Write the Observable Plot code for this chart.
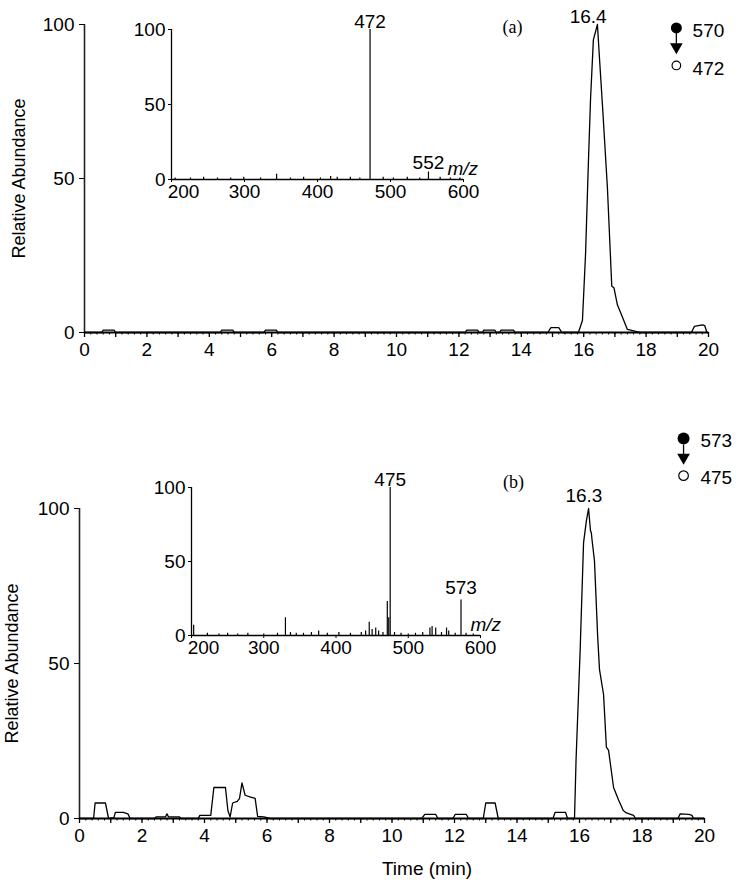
<!DOCTYPE html>
<html>
<head>
<meta charset="utf-8">
<script src="https://cdn.jsdelivr.net/npm/d3@7"></script>
<script src="https://cdn.jsdelivr.net/npm/@observablehq/plot@0.6"></script>
<style>
  body { margin: 0; background: #fff; }
  #wrap { position: relative; width: 740px; height: 890px; background: #fff; }
  #wrap > div { position: absolute; }
</style>
</head>
<body>
<div id="wrap">
  <div id="mainA" style="left:0px;top:0px"></div>
  <div id="mainB" style="left:0px;top:400px"></div>
  <div id="insetA" style="left:120px;top:0px"></div>
  <div id="insetB" style="left:140px;top:440px"></div>
</div>
<script>
// ---------- Data ----------
// Panel (a): chromatogram 570 -> 472
const timeA  = [0, 0.55, 0.6, 0.95, 1.0, 4.35, 4.4, 4.75, 4.8, 5.75, 5.8, 6.15, 6.2,
                12.2, 12.25, 12.6, 12.65, 12.75, 12.8, 13.15, 13.2, 13.3, 13.35, 13.75, 13.8,
                14.85, 14.95, 15.2, 15.3, 15.83, 15.96, 16.06, 16.15, 16.22, 16.31, 16.44,
                16.5, 16.6, 16.76, 16.9, 16.97, 17.08, 17.24, 17.4, 17.6, 17.8,
                19.45, 19.55, 19.8, 19.88, 19.95, 20];
const abundA = [0, 0, 0.8, 0.8, 0, 0, 0.8, 0.8, 0, 0, 0.8, 0.8, 0,
                0, 0.8, 0.8, 0, 0, 0.8, 0.8, 0, 0, 0.8, 0.8, 0,
                0, 1.6, 1.6, 0, 0, 3.9, 25.6, 55, 76, 95, 100,
                90, 74, 47, 15, 14.5, 9, 5, 1, 0.5, 0,
                0, 2, 2.5, 2.2, 0, 0];

// Panel (b): chromatogram 573 -> 475
const timeB  = [0, 0.45, 0.5, 0.83, 0.93, 1.1, 1.15, 1.4, 1.55, 1.62, 2.4, 2.45, 2.75, 2.8, 2.85, 3.2, 3.25,
                3.8, 3.85, 4.2, 4.3, 4.67, 4.75, 4.82, 4.9, 5.05, 5.12, 5.2, 5.3, 5.45, 5.62, 5.7, 5.9, 6.1,
                10.95, 11.05, 11.4, 11.47, 11.95, 12.02, 12.38, 12.45, 12.92, 13.0, 13.3, 13.4,
                15.15, 15.22, 15.55, 15.62, 15.84, 15.89, 16.02, 16.13, 16.22, 16.29, 16.35, 16.38, 16.4,
                16.48, 16.58, 16.64, 16.77, 16.86, 16.93, 17.09, 17.25, 17.4, 17.5, 17.73, 17.8,
                19.15, 19.22, 19.5, 19.6, 19.65, 20];
const abundB = [0, 0, 5, 5, 0, 0.3, 2, 2, 1.5, 0, 0, 0.5, 0.5, 1.5, 0.5, 0.5, 0,
                0, 1, 1, 10, 10, 2.5, 0.5, 5, 5.5, 6.5, 11.5, 7.5, 7, 6.5, 0.7, 0.5, 0,
                0, 1.3, 1.3, 0, 0, 1.3, 1.3, 0, 0, 5, 5, 0,
                0, 2, 2, 0, 0, 19, 54, 89, 96, 100, 93, 92, 90,
                83, 59, 48, 40, 23, 22, 10, 6, 2.6, 1.8, 1, 0,
                0, 1.5, 1.3, 1, 0, 0];

// Inset (a): product-ion spectrum
const mzA  = [205, 226, 244, 263, 281, 299, 322, 344, 363, 381, 404, 418, 427, 445, 458, 472,
              490, 504, 523, 540, 552, 568, 582, 595];
const intA = [1, 1, 1.5, 1, 1, 1.5, 1, 3.5, 1, 1.5, 1, 2, 1.5, 1.5, 1, 100,
              1.5, 1, 1.5, 1, 5, 1.5, 1, 1];

// Inset (b): product-ion spectrum
const mzB  = [203, 222, 238, 250, 264, 278, 300, 319, 330, 337, 345, 355, 366, 376, 388, 404, 420,
              435, 441, 446, 450, 455, 459, 465, 471, 473, 475, 481, 490, 500, 510, 520, 530, 533,
              538, 546, 553, 556, 565, 573, 580, 590];
const intB = [7, 1.5, 1, 1.5, 1, 1.5, 1, 1.5, 12, 2, 1.5, 1.5, 2, 3, 1.5, 2, 1.5,
              2, 3, 9, 4, 5, 3, 2, 23, 12, 100, 2, 1.5, 1, 1.5, 2, 5, 6,
              5, 2, 5, 3, 1.5, 24, 1.5, 1];

// Labels
const timeTicks = [0, 2, 4, 6, 8, 10, 12, 14, 16, 18, 20];
const abundTicks = [0, 50, 100];
const mzTicks = [200, 300, 400, 500, 600];
const peakTimeA = 16.4, peakTimeB = 16.3;
const ionLabelsA = [472, 552];
const ionLabelsB = [475, 573];
const transitionA = ["570", "472"];
const transitionB = ["573", "475"];

// ---------- Rendering ----------
const FONT = '"Liberation Sans", Arial, Helvetica, sans-serif';
const SERIF = '"Liberation Serif", "Times New Roman", serif';
const baseStyle = {fontFamily: FONT, fontSize: "19px", background: "transparent", overflow: "visible", color: "#000"};

const rowsA = timeA.map((t, i) => ({t, v: abundA[i]}));
const rowsB = timeB.map((t, i) => ({t, v: abundB[i]}));
const specA = mzA.map((m, i) => ({m, v: intA[i]}));
const specB = mzB.map((m, i) => ({m, v: intB[i]}));

function chromAxes(labelOffset) {
  return [
    Plot.axisX(d3.range(0, 20.001, 0.2), {tickSize: 2.5, tickFormat: () => "", label: null, strokeWidth: 1}),
    Plot.axisX(d3.range(0, 21, 1), {tickSize: 5, tickPadding: 5, strokeWidth: 1.3,
      tickFormat: d => timeTicks.includes(d) ? String(d) : "", label: null}),
    Plot.axisY(abundTicks, {tickSize: 5, tickPadding: 5, label: null}),
    Plot.axisY([], {tickSize: 0, label: "Relative Abundance", labelAnchor: "center",
      labelOffset, labelArrow: "none", fontSize: 18}),
    Plot.ruleX([0], {stroke: "#222", strokeWidth: 1.6}),
    Plot.ruleY([0], {stroke: "#000", strokeWidth: 2})
  ];
}

function legend(xc, yFill, yStem1, yStem2, yTri, yOpen, xText, yT1, yT2, labels, r) {
  return [
    Plot.dot([{x: xc, y: yFill}], {x: "x", y: "y", r: r, fill: "#000", stroke: "none"}),
    Plot.link([{x: xc, y1: yStem1, y2: yStem2}], {x1: "x", x2: "x", y1: "y1", y2: "y2", stroke: "#000", strokeWidth: 1.3}),
    Plot.dot([{x: xc, y: yTri}], {x: "x", y: "y", symbol: "triangle", rotate: 180, r: 4.7, fill: "#000", stroke: "none"}),
    Plot.dot([{x: xc, y: yOpen}], {x: "x", y: "y", r: r - 1.2, fill: "#fff", stroke: "#000", strokeWidth: 1.2}),
    Plot.text([{x: xText, y: yT1, s: labels[0]}, {x: xText, y: yT2, s: labels[1]}],
      {x: "x", y: "y", text: "s", textAnchor: "start", lineAnchor: "middle", fontSize: 19, fill: "#000"})
  ];
}

const mainA = Plot.plot({
  width: 740, height: 360,
  marginLeft: 84, marginRight: 32, marginTop: 24, marginBottom: 28,
  style: baseStyle,
  x: {domain: [0, 20]},
  y: {domain: [0, 100]},
  marks: [
    ...chromAxes(72),
    Plot.line(rowsA, {x: "t", y: "v", stroke: "#000", strokeWidth: 1.3}),
    Plot.text([peakTimeA], {x: d => d, y: () => 100, text: d => d.toFixed(1), lineAnchor: "bottom", dy: -2, dx: -8, fill: "#000"}),
    Plot.text(["(a)"], {x: () => 13.72, y: () => 99, text: d => d, fontFamily: SERIF, fontSize: 18, lineAnchor: "middle", fill: "#000"}),
    ...legend(18.97, 98.9, 97.2, 93.5, 92.7, 86.7, 19.49, 98, 85.7, transitionA, 5.5)
  ]
});
document.getElementById("mainA").append(mainA);

const mainB = Plot.plot({
  width: 740, height: 490,
  marginLeft: 79, marginRight: 36, marginTop: 108, marginBottom: 72,
  style: baseStyle,
  x: {domain: [0, 20]},
  y: {domain: [0, 100]},
  marks: [
    ...chromAxes(74),
    Plot.line(rowsB, {x: "t", y: "v", stroke: "#000", strokeWidth: 1.3}),
    Plot.text([peakTimeB], {x: d => d, y: () => 100, text: d => d.toFixed(1), lineAnchor: "bottom", dy: -7, dx: -5, fill: "#000"}),
    Plot.text(["(b)"], {x: () => 13.89, y: () => 108.4, text: d => d, fontFamily: SERIF, fontSize: 18, lineAnchor: "middle", fill: "#000"}),
    Plot.text(["Time (min)"], {frameAnchor: "bottom", dx: 35, dy: 43, lineAnchor: "top", text: d => d, fill: "#000"}),
    ...legend(19.33, 122.6, 120.6, 117.4, 116.5, 110.6, 19.87, 121.9, 110, transitionB, 6)
  ]
});
document.getElementById("mainB").append(mainB);

function insetPlot(spec, ionLabels, dys, mzLabelX, width, height, margins) {
  return Plot.plot({
    width, height, ...margins,
    style: baseStyle,
    x: {domain: [200, 600]},
    y: {domain: [0, 100]},
    marks: [
      Plot.axisX(mzTicks, {tickSize: 3, tickFormat: () => "", label: null}),
      Plot.axisX(mzTicks.slice(0, 1), {tickSize: 0, tickPadding: 5, dx: 12, label: null}),
      Plot.axisX(mzTicks.slice(1), {tickSize: 0, tickPadding: 5, label: null}),
      Plot.axisY(abundTicks, {tickSize: 3, tickPadding: 3, label: null}),
      Plot.ruleX([200], {stroke: "#000", strokeWidth: 1.3}),
      Plot.ruleY([0], {stroke: "#000", strokeWidth: 1.3}),
      Plot.ruleX(spec, {x: "m", y: "v", stroke: "#000", strokeWidth: 1.2}),
      ...ionLabels.map((lab, i) => Plot.text([lab], {
        x: d => d, y: d => spec.find(s => s.m === d).v, text: d => String(d),
        lineAnchor: "bottom", dy: dys[i], fill: "#000"})),
      Plot.text(["m/z"], {x: () => mzLabelX, y: () => 0, text: d => d, textAnchor: "start",
        lineAnchor: "bottom", dy: -5, fontStyle: "italic", fill: "#000"})
    ]
  });
}

document.getElementById("insetA").append(
  insetPlot(specA, ionLabelsA, [-2, -3], 578, 400, 210,
    {marginLeft: 51, marginRight: 57, marginTop: 29, marginBottom: 31}));
document.getElementById("insetB").append(
  insetPlot(specB, ionLabelsB, [-2, -6], 586, 400, 230,
    {marginLeft: 51, marginRight: 60, marginTop: 47, marginBottom: 35}));
</script>
</body>
</html>
